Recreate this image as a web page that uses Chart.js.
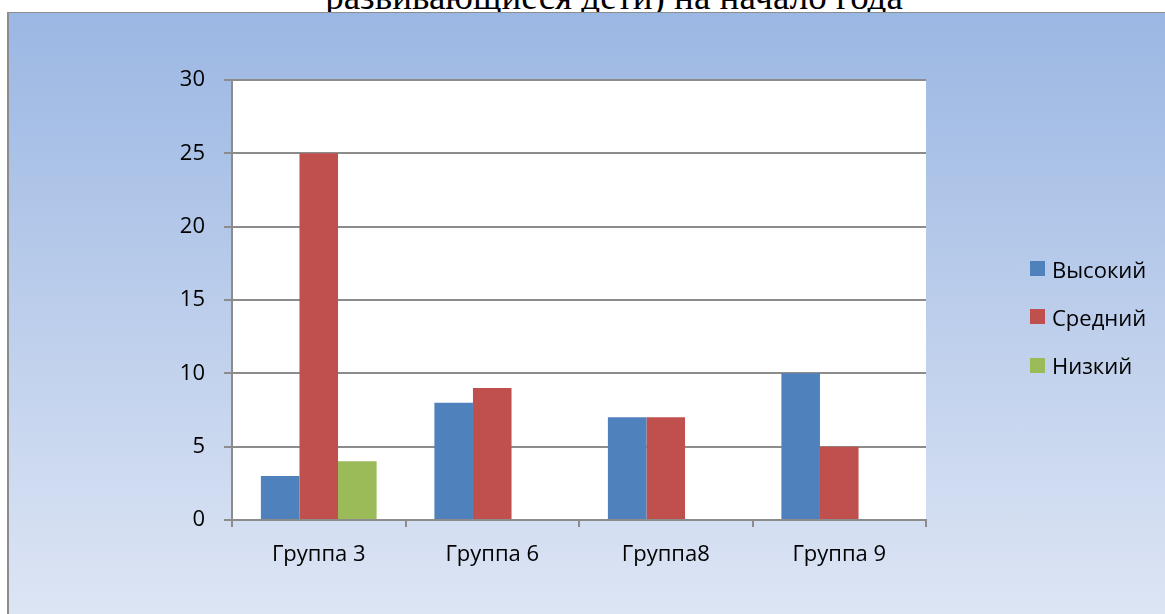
<!DOCTYPE html>
<html>
<head>
<meta charset="utf-8">
<script src="https://cdn.jsdelivr.net/npm/chart.js@4/dist/chart.umd.min.js"></script>
<style>
  html, body { margin: 0; padding: 0; background: #fff; overflow: hidden; }
  body { width: 1165px; height: 614px; position: relative; }
  #title {
    position: absolute; left: 0; top: -24px; width: 1228px;
    text-align: center; font-family: "Liberation Serif", serif;
    font-size: 37px; line-height: 41px; color: #000; white-space: nowrap;
  }
  #frame {
    position: absolute; left: 7px; top: 12px; width: 1200px; height: 640px;
    border-left: 2px solid #8c8c8c; border-top: 1px solid #8c8c8c;
    background: linear-gradient(to bottom, #9bb7e3 0px, #dde5f4 602px);
  }
  #chart { position: absolute; left: 0; top: 0; }
  #legend {
    position: absolute; left: 1030px; top: 256px;
    font-family: "Open Sans", sans-serif; font-size: 22px; color: #000;
  }
  .item { display: flex; align-items: center; height: 25px; margin-bottom: 23.3px; }
  .swatch { width: 15px; height: 15px; margin-right: 7px; }
</style>
</head>
<body>
<div id="title">развивающиеся дети) на начало года</div>
<div id="frame"></div>
<canvas id="chart" width="1165" height="614"></canvas>
<div id="legend"></div>
<script>
const categories = ["Группа 3", "Группа 6", "Группа8", "Группа 9"];
const seriesNames = ["Высокий", "Средний", "Низкий"];
const high = [3, 8, 7, 10];
const mid = [25, 9, 7, 5];
const low = [4, null, null, null];
const yTicks = [0, 5, 10, 15, 20, 25, 30];

const colors = ["#4f81bd", "#c0504d", "#9bbb59"];
const gridColor = "#8c8c8c";
const tickFont = { family: "Open Sans", size: 22 };

const plotBg = {
  id: "plotBg",
  beforeDraw(chart) {
    const { ctx, chartArea: a } = chart;
    ctx.save();
    ctx.fillStyle = "#ffffff";
    ctx.fillRect(a.left, a.top, a.right - a.left, a.bottom - a.top);
    ctx.restore();
  },
};

const chart = new Chart(document.getElementById("chart"), {
  type: "bar",
  data: {
    labels: categories,
    datasets: [high, mid, low].map((d, i) => ({
      label: seriesNames[i],
      data: d,
      backgroundColor: colors[i],
      borderWidth: 0,
      barPercentage: 1,
      categoryPercentage: 0.667,
    })),
  },
  options: {
    responsive: false,
    animation: false,
    layout: { padding: { top: 80, right: 239, left: 0, bottom: 0 } },
    plugins: {
      legend: { display: false },
      tooltip: { enabled: false },
    },
    scales: {
      x: {
        grid: {
          offset: true,
          drawOnChartArea: false,
          drawTicks: true,
          tickLength: 7,
          color: gridColor,
          lineWidth: 2,
        },
        border: { display: true, color: gridColor, width: 2 },
        ticks: { color: "#000", font: tickFont, padding: 15 },
        afterFit(scale) { scale.height = 94; },
      },
      y: {
        min: 0,
        max: 30,
        afterBuildTicks(scale) { scale.ticks = yTicks.map(v => ({ value: v })); },
        grid: { color: gridColor, lineWidth: 2, tickLength: 8, drawTicks: true },
        border: { display: true, color: gridColor, width: 2 },
        ticks: { color: "#000", font: tickFont, padding: 19 },
        afterFit(scale) { scale.width = 232; },
      },
    },
  },
  plugins: [plotBg],
});

// legend built from the chart's datasets
const legendEl = document.getElementById("legend");
chart.data.datasets.forEach(ds => {
  const row = document.createElement("div");
  row.className = "item";
  const sw = document.createElement("span");
  sw.className = "swatch";
  sw.style.background = ds.backgroundColor;
  const txt = document.createElement("span");
  txt.textContent = ds.label;
  row.appendChild(sw);
  row.appendChild(txt);
  legendEl.appendChild(row);
});
</script>
</body>
</html>
